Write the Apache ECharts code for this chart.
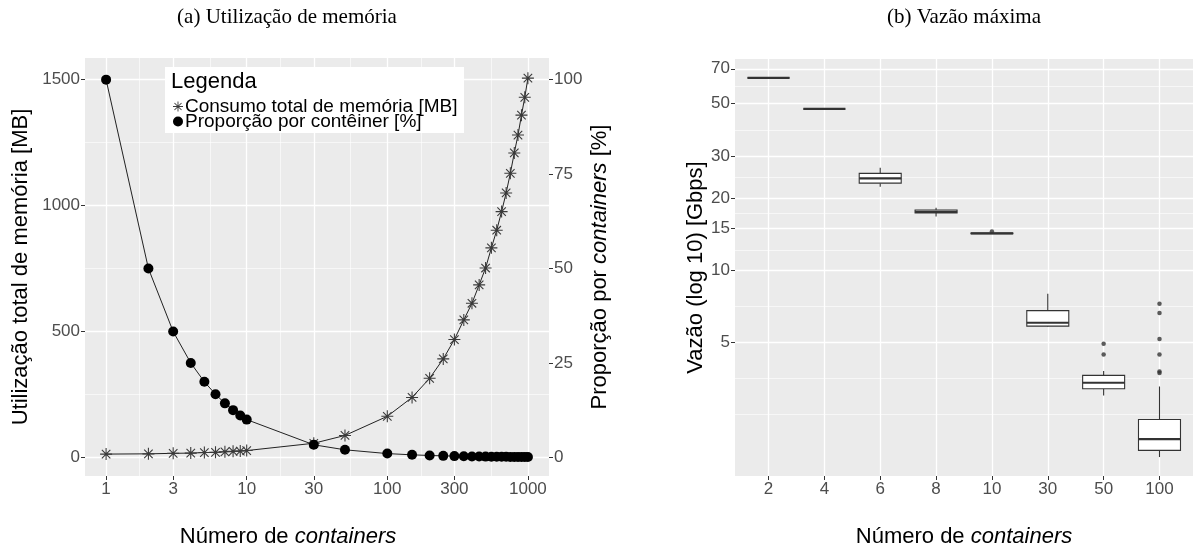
<!DOCTYPE html>
<html>
<head>
<meta charset="utf-8">
<script src="https://cdn.jsdelivr.net/npm/echarts@6/dist/echarts.min.js"></script>
<style>
    html, body {margin: 0; padding: 0; background: #fff;}
    #main {width: 1193px; height: 553px;}
</style>
</head>
<body>
<div id="main"></div>
<script>
    // (a) Utilização de memória
    var nContainers = [1,2,3,4,5,6,7,8,9,10,30,50,100,150,200,250,300,350,400,450,500,550,600,650,700,750,800,850,900,950,1000];
    var memTotal = [13,14,16,17,19,20,22,24,25,27,56,87,163,238,314,391,468,546,612,685,752,832,902,976,1050,1128,1209,1280,1359,1430,1506];
    var memProp = [100,50,33.3,25,20,16.7,14.3,12.5,11.1,10,3.33,2,1,0.67,0.5,0.4,0.33,0.29,0.25,0.22,0.2,0.18,0.17,0.15,0.14,0.13,0.13,0.12,0.11,0.11,0.1];
    var xTicksA = [1,3,10,30,100,300,1000];
    var yTicksMem = [0,500,1000,1500];
    var yMinorMem = [250,750,1250];
    var yTicksProp = [0,25,50,75,100];

    // (b) Vazão máxima
    var nCat = ['2','4','6','8','10','30','50','100'];
    // min, q1, mediana, q3, max [Gbps]
    var boxStats = [
        [64.1,64.1,64.1,64.1,64.1],
        [47.5,47.5,47.5,47.5,47.5],
        [22.4,23.2,24.3,25.5,26.9],
        [16.8,17.4,17.6,17.9,18.3],
        [14.2,14.25,14.3,14.35,14.4],
        [5.81,5.84,6.03,6.78,7.97],
        [2.99,3.19,3.38,3.63,3.79],
        [1.65,1.76,1.96,2.37,3.26]
    ];
    var outliers = [[4,14.55],[6,4.93],[6,4.44],[7,7.25],[7,6.63],[7,5.16],[7,4.44],[7,3.77],[7,3.71]];
    var yTicksB = [5,10,15,20,30,50,70];
    var yMinorB = [2.5,3.54,7.07,12.2,17.3,24.5,38.7,59.2];

    var LG = Math.log10;
    var SANS = 'Liberation Sans';
    var SERIF = 'Liberation Serif';
    var STAR = 'path://M9.1 0L10.9 0L10.9 20L9.1 20Z M0 9.1L20 9.1L20 10.9L0 10.9Z M3.57 2.29L17.71 16.43L16.43 17.71L2.29 3.57Z M16.43 2.29L17.71 3.57L3.57 17.71L2.29 16.43Z';

    function midLog(arr) {
        var out = [];
        for (var i = 0; i < arr.length - 1; i++) {
            out.push((LG(arr[i]) + LG(arr[i + 1])) / 2);
        }
        return out;
    }

    var tickLab = {fontFamily: SANS, fontSize: 17, color: '#4D4D4D'};
    var tickSty = {length: 4, lineStyle: {color: '#333', width: 1}};
    var gridMajor = {lineStyle: {color: '#fff', width: 1.3}};
    var gridMinor = {lineStyle: {color: '#fff', width: 0.6}};
    function titleSty(extra) {
        return Object.assign({fontFamily: SANS, fontSize: 22, color: '#000',
            rich: {i: {fontFamily: SANS, fontSize: 22, color: '#000', fontStyle: 'italic'}}}, extra || {});
    }

    function hiddenAxis(o) {
        o.axisLine = {show: false, onZero: false};
        o.axisLabel = {show: false};
        o.splitLine = gridMinor;
        return o;
    }

    // caixa estilo ggplot: sem travessões nas pontas dos bigodes
    function renderBox(params, api) {
        var x = api.value(0);
        var pMin = api.coord([x, api.value(1)]);
        var pQ1 = api.coord([x, api.value(2)]);
        var pMed = api.coord([x, api.value(3)]);
        var pQ3 = api.coord([x, api.value(4)]);
        var pMax = api.coord([x, api.value(5)]);
        var hw = 21;
        var stroke = {stroke: '#333', lineWidth: 1.1};
        return {
            type: 'group',
            children: [
                {type: 'line', shape: {x1: pMin[0], y1: pMin[1], x2: pQ1[0], y2: pQ1[1]}, style: stroke},
                {type: 'line', shape: {x1: pQ3[0], y1: pQ3[1], x2: pMax[0], y2: pMax[1]}, style: stroke},
                {type: 'rect', shape: {x: pQ3[0] - hw, y: pQ3[1], width: hw * 2, height: pQ1[1] - pQ3[1]},
                    style: {fill: '#fff', stroke: '#333', lineWidth: 1.1}},
                {type: 'line', shape: {x1: pMed[0] - hw, y1: pMed[1], x2: pMed[0] + hw, y2: pMed[1]},
                    style: {stroke: '#333', lineWidth: 2.2}}
            ]
        };
    }

    var myChart = echarts.init(document.getElementById('main'));
    var option = {
        animation: false,
        graphic: [
            {type: 'text', x: 287, y: 17, z: 5, style: {text: '(a) Utilização de memória', font: '21px "' + SERIF + '"', fill: '#000', align: 'center', verticalAlign: 'middle', textAlign: 'center', textVerticalAlign: 'middle'}},
            {type: 'text', x: 964, y: 17, z: 5, style: {text: '(b) Vazão máxima', font: '21px "' + SERIF + '"', fill: '#000', align: 'center', verticalAlign: 'middle', textAlign: 'center', textVerticalAlign: 'middle'}},
            {type: 'rect', z: 5, shape: {x: 165, y: 67, width: 299, height: 66}, style: {fill: '#fff'}},
            {type: 'text', x: 171, y: 82, z: 6, style: {text: 'Legenda', font: '22px "' + SANS + '"', fill: '#000', verticalAlign: 'middle', textVerticalAlign: 'middle'}}
        ],
        legend: {
            orient: 'vertical',
            left: 173,
            top: 97,
            z: 7,
            padding: 0,
            itemGap: -4,
            itemWidth: 10,
            itemHeight: 10,
            selectedMode: false,
            textStyle: {fontFamily: SANS, fontSize: 19, color: '#000', lineHeight: 14, padding: [0, 0, 0, -3]},
            data: [
                {name: 'Consumo total de memória [MB]', icon: STAR, itemStyle: {color: '#3a3a3a'}},
                {name: 'Proporção por contêiner [%]', icon: 'circle', itemStyle: {color: '#000'}}
            ]
        },
        grid: [
            {left: 85, top: 58, width: 464, height: 425, show: true, backgroundColor: '#EBEBEB', borderWidth: 0},
            {left: 735, top: 59, width: 460, height: 424, show: true, backgroundColor: '#EBEBEB', borderWidth: 0}
        ],
        xAxis: [
            {
                gridIndex: 0, type: 'value', min: -0.15, max: 3.15, position: 'bottom',
                axisLine: {show: false, onZero: false},
                axisTick: Object.assign({customValues: xTicksA.map(LG)}, tickSty),
                axisLabel: Object.assign({customValues: xTicksA.map(LG), margin: 5,
                    formatter: function (v) { return String(Math.round(Math.pow(10, v))); }}, tickLab),
                splitLine: gridMajor,
                name: 'Número de {i|containers}', nameLocation: 'middle', nameGap: 50,
                nameTextStyle: titleSty({padding: [0, 58, 0, 0]})
            },
            hiddenAxis({gridIndex: 0, type: 'value', min: -0.15, max: 3.15, position: 'top',
                axisTick: {show: false, customValues: midLog(xTicksA)}}),
            {
                gridIndex: 1, type: 'value', min: -0.6, max: 7.6, position: 'bottom',
                axisLine: {show: false, onZero: false},
                axisTick: Object.assign({customValues: [0,1,2,3,4,5,6,7]}, tickSty),
                axisLabel: Object.assign({customValues: [0,1,2,3,4,5,6,7], margin: 5,
                    formatter: function (v) { return nCat[Math.round(v)]; }}, tickLab),
                splitLine: gridMajor,
                name: 'Número de {i|containers}', nameLocation: 'middle', nameGap: 50, nameTextStyle: titleSty()
            }
        ],
        yAxis: [
            {
                gridIndex: 0, type: 'value', min: -74, max: 1586, position: 'left',
                axisLine: {show: false, onZero: false},
                axisTick: Object.assign({customValues: yTicksMem}, tickSty),
                axisLabel: Object.assign({customValues: yTicksMem, margin: 5,
                    formatter: function (v) { return String(v); }}, tickLab),
                splitLine: gridMajor,
                name: 'Utilização total de memória [MB]', nameLocation: 'middle', nameGap: 53, nameRotate: 90, nameTextStyle: titleSty()
            },
            {
                gridIndex: 0, type: 'value', min: -74 / 15, max: 1586 / 15, position: 'right',
                axisLine: {show: false, onZero: false},
                axisTick: Object.assign({customValues: yTicksProp}, tickSty),
                axisLabel: Object.assign({customValues: yTicksProp, margin: 5}, tickLab),
                splitLine: {show: false},
                name: 'Proporção por {i|containers} [%]', nameLocation: 'middle', nameGap: 40, nameRotate: 90, nameTextStyle: titleSty()
            },
            hiddenAxis({gridIndex: 0, type: 'value', min: -74, max: 1586, position: 'left',
                axisTick: {show: false, customValues: yMinorMem}}),
            {
                gridIndex: 1, type: 'value', min: 0.138, max: 1.886, position: 'left',
                axisLine: {show: false, onZero: false},
                axisTick: Object.assign({customValues: yTicksB.map(LG)}, tickSty),
                axisLabel: Object.assign({customValues: yTicksB.map(LG), margin: 5,
                    formatter: function (v) { return String(Math.round(Math.pow(10, v))); }}, tickLab),
                splitLine: gridMajor,
                name: 'Vazão (log 10) [Gbps]', nameLocation: 'middle', nameGap: 25, nameRotate: 90, nameTextStyle: titleSty()
            },
            hiddenAxis({gridIndex: 1, type: 'value', min: 0.138, max: 1.886, position: 'left',
                axisTick: {show: false, customValues: yMinorB.map(LG)}})
        ],
        series: [
            {
                name: 'Consumo total de memória [MB]', type: 'line', xAxisIndex: 0, yAxisIndex: 0,
                data: nContainers.map(function (n, i) { return [LG(n), memTotal[i]]; }),
                symbol: STAR, symbolSize: 12, z: 3,
                lineStyle: {color: '#222', width: 1},
                itemStyle: {color: '#3a3a3a'}
            },
            {
                name: 'Proporção por contêiner [%]', type: 'line', xAxisIndex: 0, yAxisIndex: 1,
                data: nContainers.map(function (n, i) { return [LG(n), memProp[i]]; }),
                symbol: 'circle', symbolSize: 10, z: 4,
                lineStyle: {color: '#222', width: 1},
                itemStyle: {color: '#000'}
            },
            {
                name: 'vazao', type: 'custom', xAxisIndex: 2, yAxisIndex: 3,
                data: boxStats.map(function (s, i) { return [i].concat(s.map(LG)); }),
                encode: {x: 0, y: [1, 2, 3, 4, 5]},
                renderItem: renderBox
            },
            {
                name: 'outliers', type: 'scatter', xAxisIndex: 2, yAxisIndex: 3,
                data: outliers.map(function (o) { return [o[0], LG(o[1])]; }),
                symbolSize: 4.5, itemStyle: {color: '#333'}
            }
        ]
    };
    myChart.setOption(option);
</script>
</body>
</html>
